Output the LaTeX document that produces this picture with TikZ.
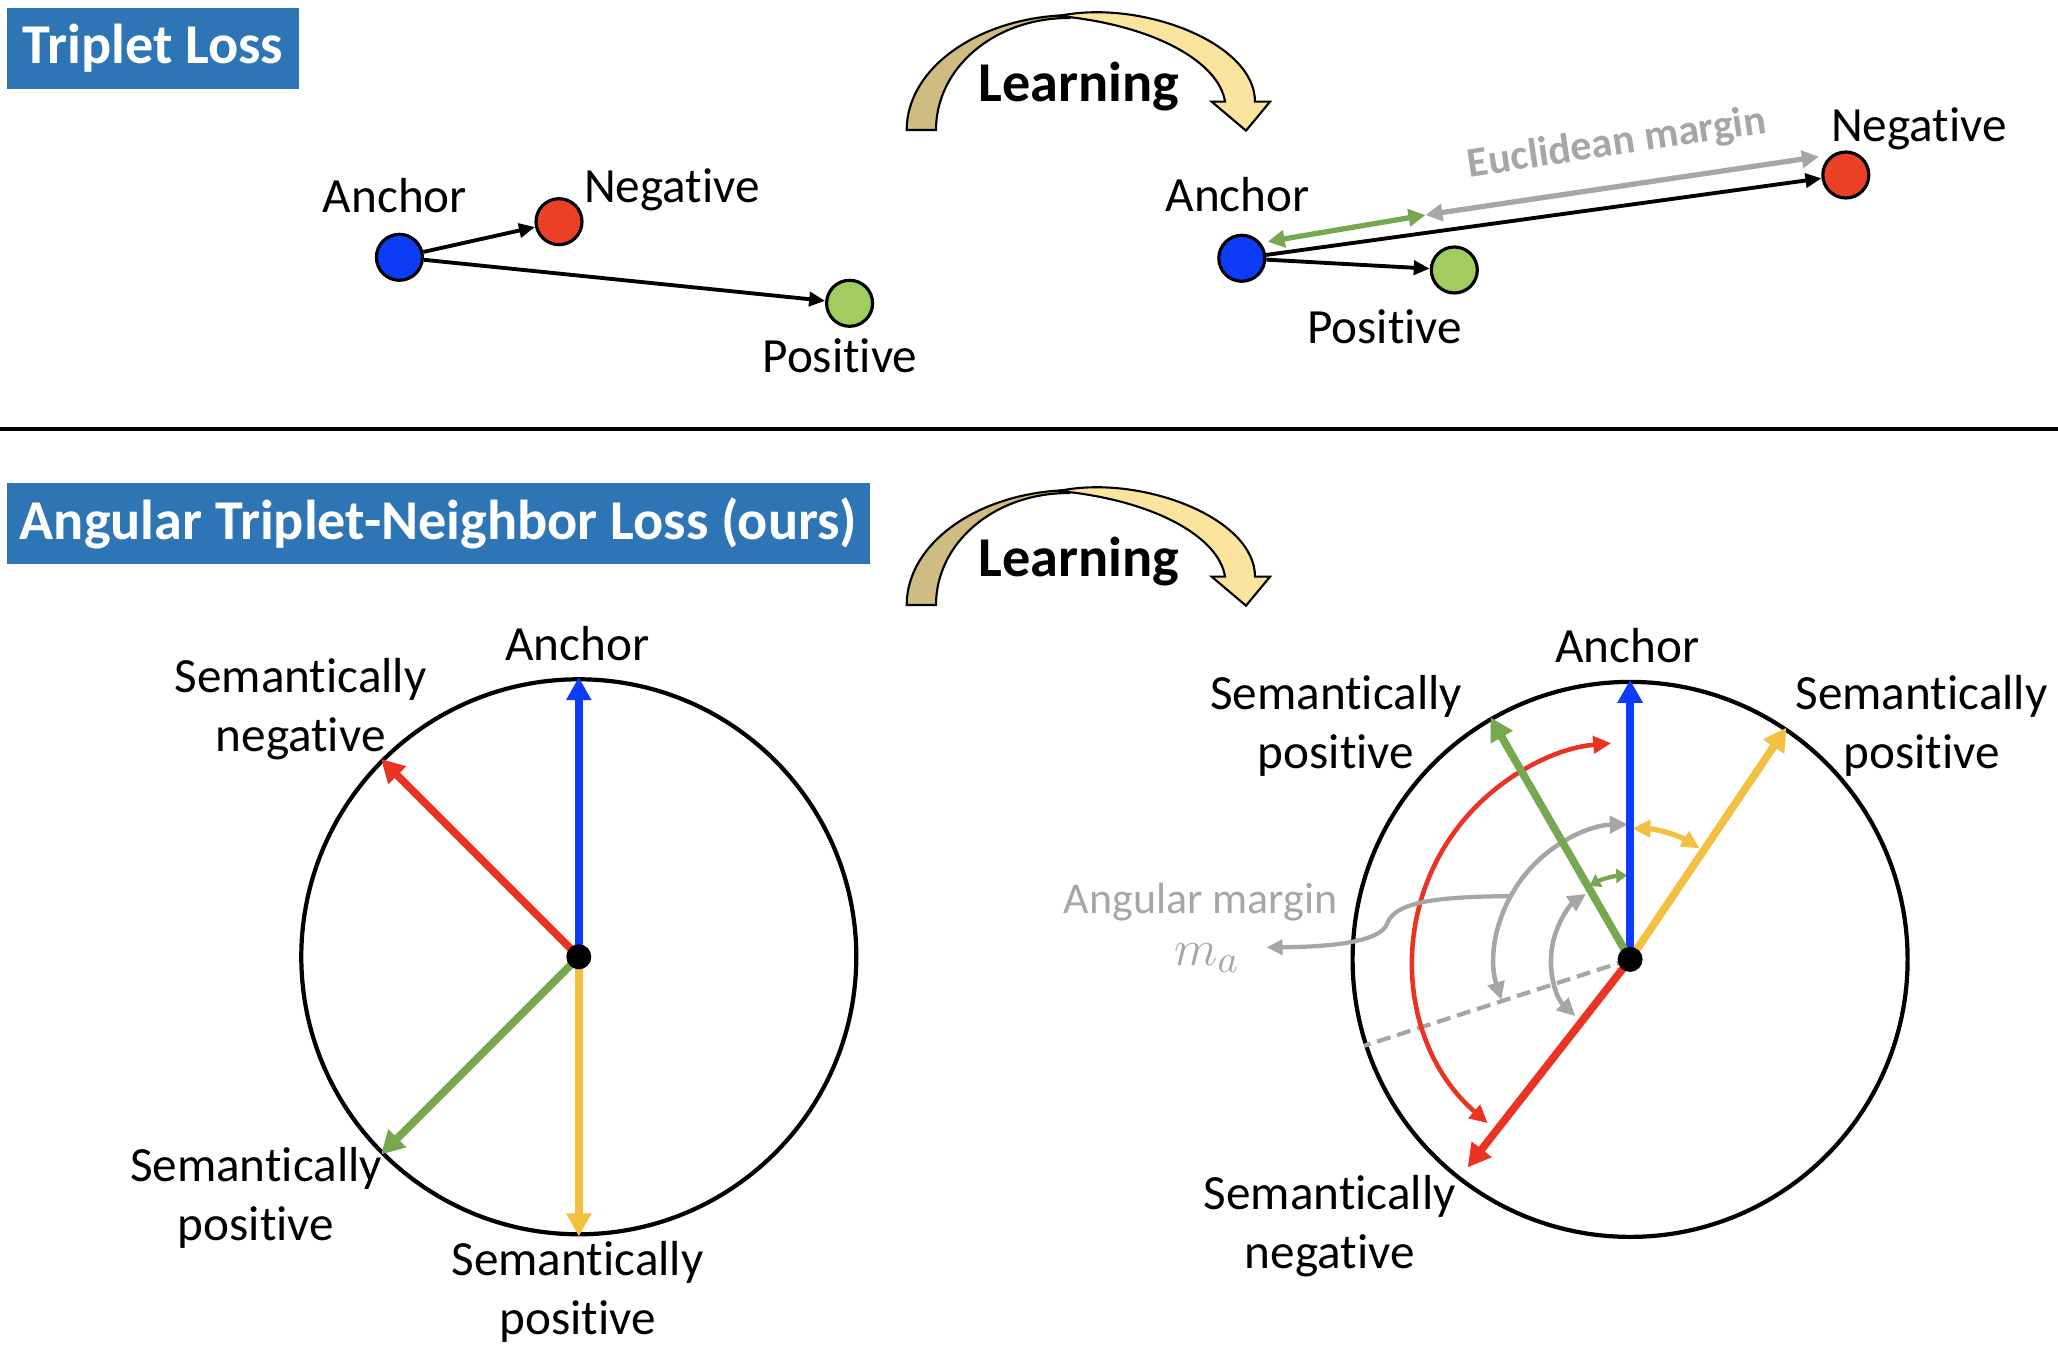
\documentclass[tikz,border=0pt]{standalone}
\usepackage{fontspec}
\setmainfont[Ligatures={NoCommon,NoRare,NoRequired,NoContextual,NoHistoric},Contextuals=NoAlternate]{Carlito}
\usetikzlibrary{arrows.meta}
\definecolor{boxblue}{RGB}{46,117,182}
\definecolor{ancblue}{RGB}{12,60,246}
\definecolor{negred}{RGB}{234,65,38}
\definecolor{posgreen}{RGB}{160,204,96}
\definecolor{vecred}{RGB}{234,51,35}
\definecolor{vecgreen}{RGB}{118,168,80}
\definecolor{vecgold}{RGB}{244,192,66}
\definecolor{margin}{RGB}{166,166,166}
\definecolor{backtan}{RGB}{207,188,130}
\definecolor{fronttan}{RGB}{251,228,158}
\tikzset{
  tag/.style={fill=boxblue, text=white, font=\fontsize{16}{19}\selectfont\bfseries,
              minimum height=8.1mm, inner sep=2pt},
  lbl/.style={font=\fontsize{14}{16.8}\selectfont, align=center, inner sep=1pt},
  pt/.style={circle, draw=black, line width=0.9pt, minimum size=4.6mm, inner sep=0pt},
  ring/.style={circle, draw=black, line width=1.2pt, minimum size=5.55cm, inner sep=0pt},
  dot/.style={circle, fill=black, minimum size=2.5mm, inner sep=0pt},
  link/.style={-{Triangle[length=1.6mm,width=1.4mm]}, line width=1.1pt},
  gap/.style={{Triangle[length=1.7mm,width=1.7mm]}-{Triangle[length=1.7mm,width=1.7mm]}, line width=1.5pt},
  vec/.style={-{Triangle[length=2.3mm,width=2.4mm]}, line width=2.2pt},
  swing/.style={{Triangle[length=1.8mm,width=1.7mm]}-{Triangle[length=1.8mm,width=1.7mm]}, line width=1.3pt},
  nudge/.style={{Triangle[length=1.1mm,width=1.4mm]}-{Triangle[length=1.1mm,width=1.4mm]}, line width=1.2pt},
  learnarrow/.pic={
    \filldraw[fill=backtan, line width=0.6pt] (-1.723,-0.43) .. controls (-1.723,0.205) and (-0.97,0.72) .. (-0.04,0.72)
      -- (-0.10,0.69) .. controls (-0.85,0.69) and (-1.43,0.19) .. (-1.43,-0.43) -- cycle;
    \filldraw[fill=fronttan, line width=0.6pt] (-0.2,0.71) .. controls (0.6,0.88) and (1.76,0.45) .. (1.76,-0.147)
      -- (1.91,-0.147) -- (1.67,-0.437) -- (1.327,-0.147) -- (1.46,-0.147)
      .. controls (1.40,0.25) and (0.75,0.62) .. (-0.2,0.71) -- cycle;
  },
}
\begin{document}
\begin{tikzpicture}
  \path[use as bounding box, fill=white] (0,0) rectangle (20.58,13.54);
  \node[tag, minimum width=2.924cm] (ttl1) at (1.528,13.055) {Triplet Loss};
  \node[tag, minimum width=8.636cm] (ttl2) at (4.385,8.305) {Angular Triplet-Neighbor Loss (ours)};
  \pic at (10.79,12.67) {learnarrow};
  \node[font=\fontsize{16}{19}\selectfont\bfseries] (lrn1) at (10.79,12.67) {Learning};
  \pic at (10.79,7.92) {learnarrow};
  \node[font=\fontsize{16}{19}\selectfont\bfseries] (lrn2) at (10.79,7.92) {Learning};

  \node[pt, fill=ancblue] (anc1) at (3.994,10.967) {};
  \node[pt, fill=negred] (neg1) at (5.59,11.323) {};
  \node[pt, fill=posgreen] (pos1) at (8.496,10.507) {};
  \draw[link] (anc1) -- (neg1);
  \draw[link] (anc1) -- (pos1);
  \node[lbl] at (3.95,11.58) {Anchor};
  \node[lbl] at (6.72,11.64) {Negative};
  \node[lbl] at (8.40,9.98) {Positive};

  \node[pt, fill=ancblue] (anc2) at (12.418,10.957) {};
  \node[pt, fill=posgreen] (pos2) at (14.543,10.84) {};
  \node[pt, fill=negred] (neg2) at (18.458,11.79) {};
  \coordinate (gapA) at (12.677,11.123);
  \coordinate (gapB) at (14.255,11.39);
  \coordinate (gapC) at (18.188,11.973);
  \draw[gap, vecgreen] (gapA) -- (gapB);
  \draw[gap, margin] (gapB) -- (gapC);
  \draw[link] (anc2) -- (pos2);
  \draw[link] (anc2) -- (neg2);
  \node[font=\fontsize{12}{14}\selectfont\bfseries, text=margin, rotate=8.5] (eucl) at (16.17,12.10) {Euclidean margin};
  \node[lbl] at (12.377,11.597) {Anchor};
  \node[lbl] at (13.847,10.272) {Positive};
  \node[lbl] at (19.189,12.25) {Negative};

  \coordinate (sepL) at (0,9.25);
  \coordinate (sepR) at (20.58,9.25);
  \draw[line width=1.3pt] (sepL) -- (sepR);

  \node[ring] (ring1) at (5.788,3.972) {};
  \draw[vec, ancblue] (ring1.center) -- (ring1.90);
  \draw[vec, vecred] (ring1.center) -- (ring1.135);
  \draw[vec, vecgreen] (ring1.center) -- (ring1.225);
  \draw[vec, vecgold] (ring1.center) -- (ring1.270);
  \node[dot] (o1) at (ring1.center) {};
  \node[lbl] at (5.775,7.109) {Anchor};
  \node[lbl] at (3.006,6.446) {Semantically\\negative};
  \node[lbl] at (2.56,1.557) {Semantically\\positive};
  \node[lbl] at (5.775,0.625) {Semantically\\positive};

  \node[ring] (ring2) at (16.301,3.946) {};
  \draw[margin, line width=1.2pt, dash pattern=on 1.4mm off 0.7mm] (ring2.center) -- (ring2.198);
  \draw[swing, vecred] ([shift={(229:2.17)}]ring2.center) arc[start angle=229, end angle=95, radius=2.17];
  \draw[swing, margin] ([shift={(197.5:1.35)}]ring2.center) arc[start angle=197.5, end angle=91, radius=1.35];
  \draw[swing, margin] ([shift={(226:0.79)}]ring2.center) arc[start angle=226, end angle=124, radius=0.79];
  \draw[nudge, vecgreen] ([shift={(119:0.84)}]ring2.center) arc[start angle=119, end angle=92, radius=0.84];
  \draw[swing, vecgold, line width=1.5pt] ([shift={(89:1.31)}]ring2.center) arc[start angle=89, end angle=58, radius=1.31];
  \coordinate (negtip) at ([shift={(232:2.64)}]ring2.center);
  \draw[vec, ancblue] (ring2.center) -- (ring2.90);
  \draw[vec, vecgreen] (ring2.center) -- (ring2.120);
  \draw[vec, vecgold] (ring2.center) -- (ring2.56);
  \draw[vec, vecred] (ring2.center) -- (negtip);
  \node[dot] (o2) at (ring2.center) {};
  \node[lbl] at (16.275,7.08) {Anchor};
  \node[lbl] at (13.36,6.28) {Semantically\\positive};
  \node[lbl] at (19.215,6.28) {Semantically\\positive};
  \node[lbl] at (13.296,1.28) {Semantically\\negative};

  \node[font=\fontsize{12.5}{15}\selectfont, text=margin] (amar) at (12.006,4.523) {Angular margin};
  \node[font=\fontsize{15}{17}\selectfont, text=margin] (ma) at (12.07,3.96) {$m_a$};
  \coordinate (mgrip) at ([shift={(152:1.35)}]ring2.center);
  \coordinate (matip) at (12.665,4.067);
  \draw[margin, line width=1.2pt, -{Triangle[length=1.6mm,width=1.5mm]}] (mgrip)
    .. controls (14.5,4.57) and (13.95,4.55) .. (13.87,4.30)
    .. controls (13.8,4.12) and (13.3,4.07) .. (matip);
\end{tikzpicture}
\end{document}
